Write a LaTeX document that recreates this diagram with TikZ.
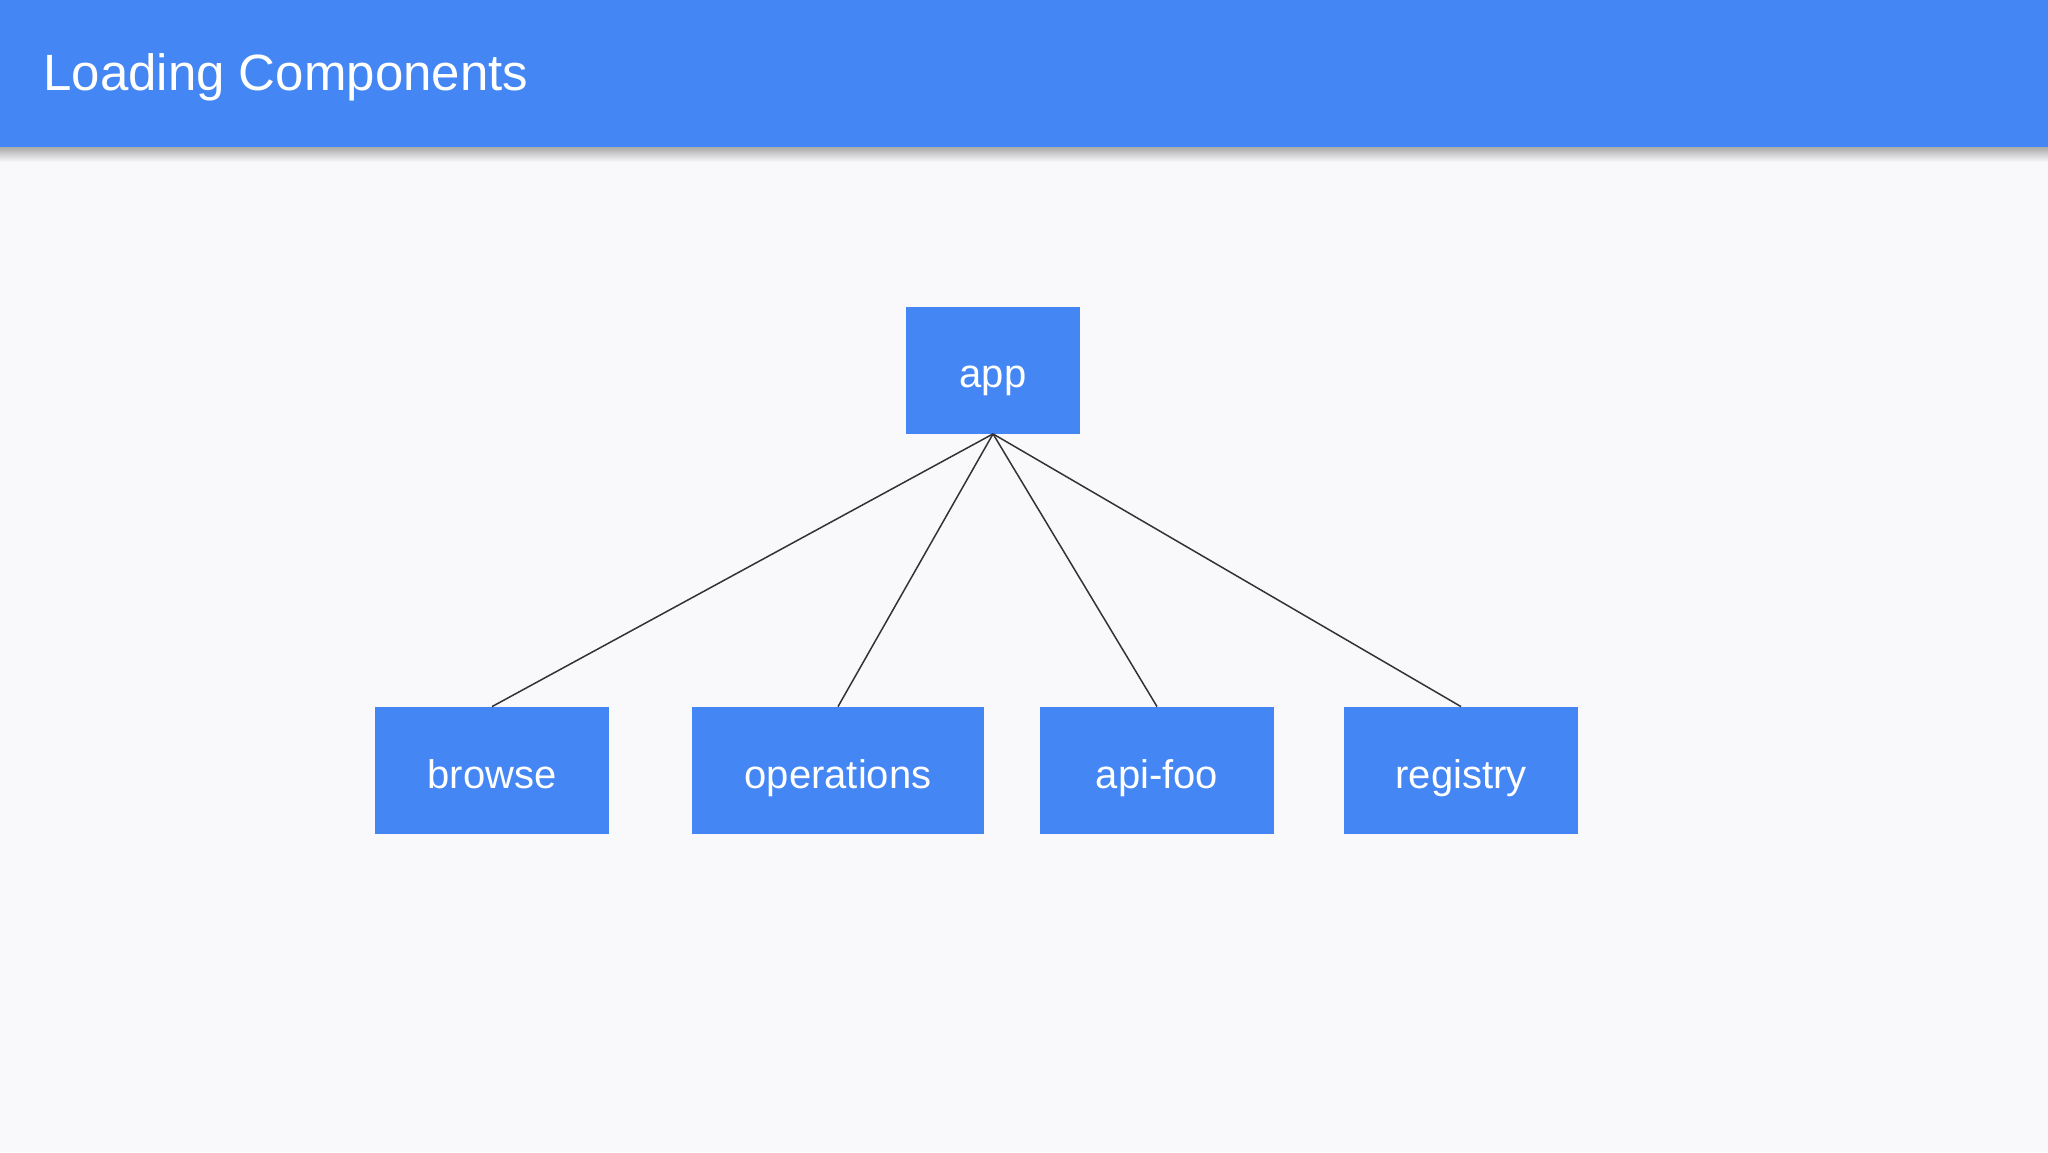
\documentclass[tikz,border=0pt]{standalone}
\usepackage{fontspec}
\setmainfont{Liberation Sans}
\definecolor{gblue}{HTML}{4486F4}
\definecolor{bgc}{HTML}{F9F8FB}
\definecolor{linec}{HTML}{333333}
\begin{document}
\begin{tikzpicture}[x=0.5pt,y=-0.5pt,
  comp/.style={rectangle, fill=gblue, draw=none, text=white, inner sep=0pt,
    text height=17.5pt, text depth=0pt,
    minimum height=63.5pt, font=\fontsize{20}{24}\selectfont},
  link/.style={draw=linec, line width=0.75pt}]
\useasboundingbox (0,0) rectangle (2048,1152);
\fill[bgc] (0,0) rectangle (2048,1152);
% header shadow
\shade[top color=black!35, bottom color=bgc] (0,146) rectangle (2048,162);
\fill[gblue] (0,0) rectangle (2048,147);
\node[anchor=base west, text=white, inner sep=0pt, font=\fontsize{25.5}{30}\selectfont] (title) at (43,90) {Loading Components};
% nodes
\node[comp, minimum width=87pt] (app) at (993,370) {app};
\node[comp, minimum width=117pt] (browse) at (492,770.5) {browse};
\node[comp, minimum width=146pt] (ops) at (838,770.5) {operations};
\node[comp, minimum width=117pt] (api) at (1157,770.5) {api-foo};
\node[comp, minimum width=117pt] (reg) at (1461,770.5) {registry};
% connectors
\draw[link] (app.south) -- (browse.north);
\draw[link] (app.south) -- (ops.north);
\draw[link] (app.south) -- (api.north);
\draw[link] (app.south) -- (reg.north);
\end{tikzpicture}
\end{document}
